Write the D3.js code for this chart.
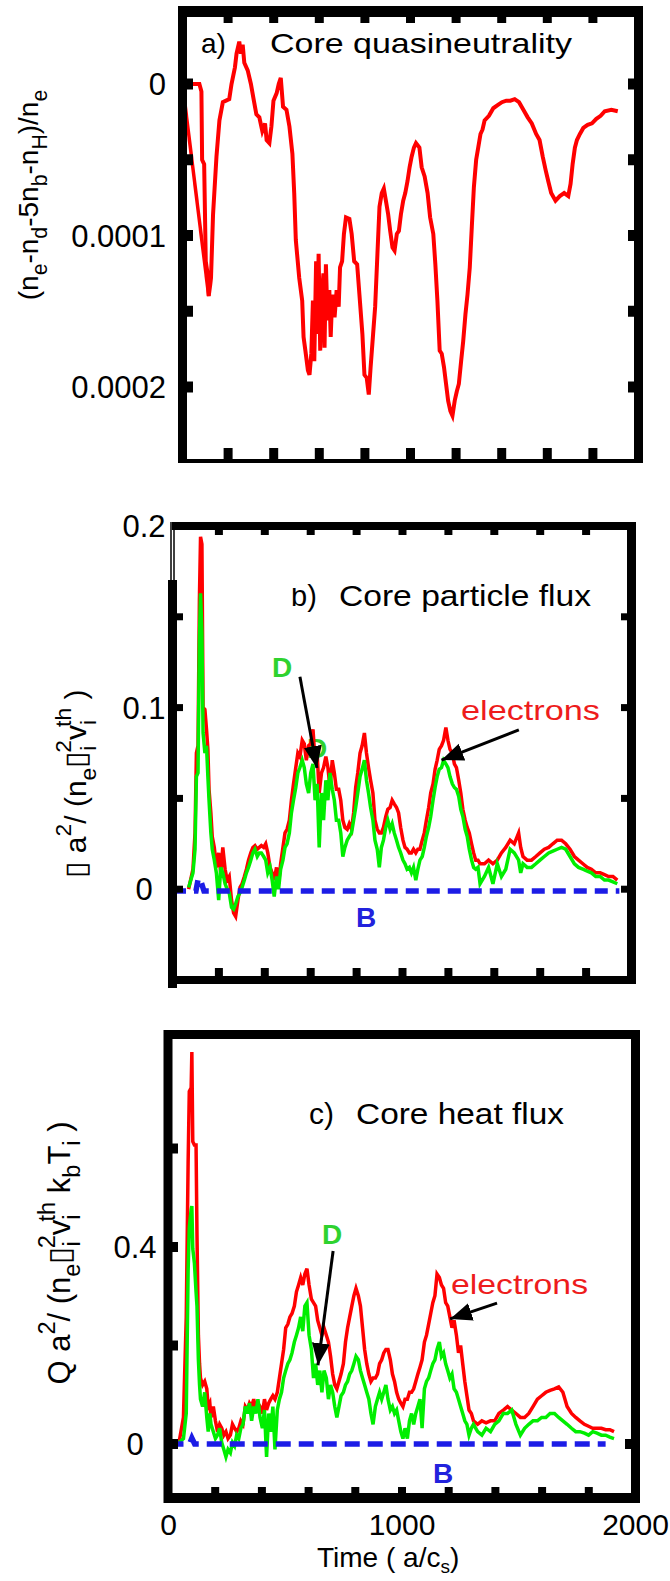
<!DOCTYPE html>
<html>
<head>
<meta charset="utf-8">
<script src="https://cdn.jsdelivr.net/npm/d3@7"></script>
<style>
body { margin: 0; background: #fff; }
svg { display: block; }
text { font-family: "Liberation Sans", Arial, Helvetica, sans-serif; }
</style>
</head>
<body>
<div id="chart"></div>
<script>
// ---- panel a : core quasineutrality (values in units of 1e-4) ----
var qnT = [0,74,83,86,95,102,110,115,122,125,134,
  149,162,177,205,215,230,237,249,256,264,
  271,286,300,313,324,337,350,362,369,381,
  390,399,413,422,431,441,456,469,482,490,
  497,512,525,531,539,550,557,565,572,578,
  586,591,597,604,610,618,623,629,636,644,
  650,657,667,676,685,691,700,708,717,732,
  742,753,766,776,789,798,808,817,825,836,
  845,855,864,874,883,892,902,911,921,930,
  940,949,958,968,977,987,996,1005,1015,1024,
  1039,1049,1062,1075,1086,1100,1109,1118,1128,1137,
  1147,1156,1165,1175,1184,1194,1203,1212,1222,1231,
  1241,1250,1260,1269,1278,1288,1297,1307,1316,1325,
  1344,1363,1382,1401,1420,1438,1457,1476,1495,1514,
  1532,1551,1566,1580,1593,1604,1617,1636,1655,1674,
  1692,1702,1711,1721,1730,1743,1758,1777,1796,1815,
  1834,1852,1881,1909];
var qnV = [0,0,0.05,0.5,0.53,1.17,1.25,1.40,1.32,1.28,0.86,
  0.48,0.24,0.12,0.10,0,-0.11,-0.20,-0.28,-0.20,-0.26,
  -0.14,-0.09,0,0.11,0.20,0.22,0.31,0.26,0.37,0.39,
  0.28,0.11,0.06,0,-0.04,0.15,0.17,0.28,0.46,0.72,
  1.03,1.28,1.43,1.67,1.76,1.89,1.92,1.78,1.43,1.83,
  1.17,1.65,1.12,1.76,1.43,1.25,1.74,1.19,1.56,1.36,
  1.67,1.39,1.54,1.36,1.47,1.21,1.17,0.99,0.88,0.89,
  0.99,1.17,1.19,1.39,1.65,1.92,1.94,2.05,1.87,1.65,
  1.47,1.12,0.81,0.72,0.69,0.77,0.86,0.97,1.08,1.10,
  0.99,0.97,0.86,0.77,0.72,0.64,0.55,0.48,0.42,0.39,
  0.42,0.55,0.61,0.72,0.88,0.99,1.19,1.43,1.76,1.78,
  1.87,1.98,2.09,2.16,2.19,2.09,2.03,1.98,1.83,1.70,
  1.52,1.39,1.21,0.94,0.68,0.50,0.42,0.33,0.30,0.24,
  0.21,0.16,0.14,0.12,0.11,0.11,0.10,0.12,0.17,0.22,
  0.26,0.33,0.37,0.48,0.57,0.64,0.72,0.77,0.74,0.72,
  0.74,0.66,0.53,0.42,0.37,0.33,0.29,0.27,0.26,0.23,
  0.21,0.18,0.17,0.18];
// first sample joined straight to the early minimum
var qnLeadT = [0, 115];
var qnLeadV = [0, 1.40];
var qnTicks = [0, 0.5, 1, 1.5, 2];
var qnLabels = [0, 1, 2];

// ---- panel b : core particle flux ----
var pfT = [68,87,96,102,109,115,120,126,131,139,
  146,152,157,165,171,180,189,199,208,217,
  227,236,245,255,264,273,283,292,301,311,
  320,329,339,348,357,367,376,385,395,404,
  413,423,432,441,451,460,469,479,488,497,
  507,516,525,535,544,553,563,572,581,591,
  600,610,619,628,637,647,656,666,675,684,
  694,703,712,722,731,740,749,759,768,778,
  787,796,805,815,824,834,843,852,861,871,
  880,890,899,908,917,927,936,946,955,964,
  974,983,992,1002,1011,1020,1030,1039,1048,1058,
  1067,1076,1086,1095,1104,1114,1123,1133,1142,1151,
  1160,1170,1179,1189,1198,1207,1217,1226,1235,1245,
  1254,1263,1273,1282,1291,1301,1310,1319,1329,1338,
  1357,1375,1394,1413,1431,1450,1469,1487,1506,1515,
  1525,1543,1562,1581,1599,1618,1637,1655,1674,1693,
  1711,1730,1749,1767,1786,1805,1823,1842,1861,1880,
  1898,1917,1936];
var pfElectrons = [0.000,0.011,0.031,0.075,0.079,0.159,0.194,0.190,0.100,0.099,
  0.088,0.077,0.055,0.042,0.029,0.023,0.012,0.020,0.009,0.023,
  0.011,0.005,0.007,-0.006,-0.013,-0.015,-0.006,0.001,0.003,0.007,
  0.011,0.016,0.020,0.023,0.024,0.022,0.023,0.024,0.023,0.025,
  0.020,0.012,0.009,0.005,0.012,0.003,0.014,0.023,0.031,0.033,
  0.038,0.049,0.058,0.067,0.075,0.073,0.082,0.080,0.071,0.079,
  0.080,0.088,0.071,0.075,0.053,0.064,0.067,0.073,0.067,0.056,
  0.071,0.064,0.055,0.055,0.049,0.038,0.034,0.033,0.036,0.033,
  0.042,0.056,0.064,0.075,0.079,0.086,0.075,0.067,0.060,0.053,
  0.038,0.033,0.031,0.031,0.034,0.040,0.044,0.045,0.049,0.047,
  0.045,0.042,0.034,0.027,0.023,0.022,0.020,0.020,0.022,0.020,
  0.022,0.022,0.027,0.031,0.038,0.045,0.053,0.058,0.066,0.071,
  0.077,0.079,0.082,0.089,0.082,0.077,0.075,0.069,0.067,0.060,
  0.053,0.044,0.038,0.034,0.031,0.025,0.020,0.016,0.016,0.014,
  0.014,0.016,0.014,0.016,0.020,0.023,0.027,0.025,0.031,0.023,
  0.018,0.016,0.016,0.018,0.020,0.022,0.023,0.025,0.027,0.027,
  0.025,0.022,0.018,0.016,0.014,0.012,0.011,0.009,0.009,0.008,
  0.007,0.007,0.005];
var pfD = [0.001,0.009,0.022,0.062,0.064,0.137,0.163,0.141,0.086,0.075,
  0.079,0.062,0.049,0.031,0.022,0.016,0.009,-0.006,0.012,0.009,
  0.003,0.000,-0.002,-0.010,-0.011,-0.008,-0.004,-0.002,0.001,0.005,
  0.009,0.012,0.016,0.020,0.022,0.018,0.020,0.020,0.018,0.016,
  0.009,0.012,0.005,-0.004,0.007,0.000,0.011,0.016,0.023,0.025,
  0.031,0.042,0.049,0.056,0.064,0.067,0.071,0.067,0.058,0.053,
  0.064,0.069,0.049,0.058,0.023,0.053,0.038,0.060,0.049,0.064,
  0.055,0.049,0.038,0.038,0.031,0.018,0.023,0.027,0.029,0.031,
  0.038,0.045,0.053,0.062,0.066,0.071,0.060,0.053,0.045,0.038,
  0.027,0.022,0.012,0.023,0.027,0.034,0.038,0.033,0.036,0.031,
  0.027,0.023,0.020,0.016,0.014,0.011,0.012,0.009,0.012,0.005,
  0.011,0.016,0.018,0.023,0.029,0.034,0.040,0.049,0.056,0.062,
  0.066,0.067,0.071,0.069,0.067,0.062,0.058,0.056,0.055,0.051,
  0.044,0.040,0.033,0.029,0.022,0.016,0.012,0.011,0.012,0.003,
  0.007,0.012,0.003,0.014,0.007,0.011,0.022,0.020,0.016,0.009,
  0.014,0.012,0.012,0.014,0.016,0.018,0.020,0.021,0.022,0.023,
  0.022,0.018,0.014,0.012,0.011,0.010,0.009,0.007,0.007,0.005,
  0.005,0.004,0.003];
var pfBT = [0,100,110,120,135,1945];
var pfB = [-0.001,-0.001,0.006,0.005,-0.001,-0.001];
var pfTicks = [0, 0.05, 0.1, 0.15];
var pfLabels = [0, 0.1, 0.2];

// ---- panel c : core heat flux ----
var hfT = [45,64,76,84,89,97,100,104,111,118,
  122,128,133,137,146,155,164,170,177,182,
  192,201,210,219,228,237,246,255,265,274,
  283,292,301,310,319,329,338,347,356,365,
  374,383,392,402,411,420,429,438,447,456,
  466,475,484,493,502,511,520,529,539,548,
  557,566,575,584,593,602,612,621,630,639,
  648,657,666,676,685,694,703,712,721,730,
  739,749,758,767,776,785,794,803,813,822,
  831,840,849,858,867,876,886,895,904,913,
  922,931,940,950,959,968,977,986,995,1004,
  1013,1023,1032,1041,1050,1059,1068,1077,1086,1096,
  1105,1114,1123,1132,1141,1150,1160,1169,1178,1187,
  1196,1205,1214,1223,1233,1242,1251,1260,1269,1278,
  1287,1297,1306,1324,1342,1360,1379,1397,1415,1434,
  1452,1470,1488,1507,1525,1543,1561,1580,1598,1616,
  1634,1653,1671,1689,1707,1726,1744,1762,1781,1799,
  1817,1835,1854,1872,1890,1908];
var hfElectrons = [0.003,0.054,0.258,0.570,0.716,0.723,0.796,0.614,0.607,0.607,
  0.425,0.221,0.163,0.134,0.120,0.127,0.112,0.076,0.083,0.054,
  0.076,0.047,0.025,0.040,0.032,0.018,0.025,0.011,0.018,0.040,
  0.032,0.025,0.032,0.047,0.040,0.076,0.069,0.083,0.076,0.091,
  0.069,0.083,0.076,0.062,0.091,0.069,0.083,0.091,0.098,0.091,
  0.105,0.134,0.163,0.192,0.236,0.243,0.258,0.265,0.280,0.309,
  0.323,0.338,0.323,0.345,0.356,0.323,0.294,0.287,0.280,0.251,
  0.236,0.221,0.236,0.221,0.207,0.178,0.142,0.120,0.112,0.127,
  0.142,0.163,0.207,0.236,0.258,0.280,0.301,0.316,0.301,0.280,
  0.236,0.192,0.163,0.142,0.127,0.134,0.134,0.142,0.163,0.171,
  0.185,0.192,0.192,0.171,0.142,0.127,0.105,0.091,0.083,0.076,
  0.091,0.091,0.105,0.105,0.112,0.127,0.142,0.156,0.171,0.207,
  0.221,0.243,0.265,0.287,0.301,0.345,0.338,0.323,0.316,0.287,
  0.280,0.258,0.236,0.251,0.221,0.185,0.200,0.163,0.127,0.098,
  0.069,0.062,0.047,0.040,0.047,0.043,0.047,0.047,0.062,0.069,
  0.076,0.069,0.062,0.054,0.054,0.062,0.076,0.091,0.098,0.105,
  0.109,0.112,0.116,0.105,0.076,0.062,0.054,0.047,0.040,0.036,
  0.032,0.032,0.032,0.029,0.029,0.025];
var hfD = [0.003,0.011,0.062,0.352,0.439,0.476,0.483,0.396,0.367,0.309,
  0.280,0.171,0.120,0.091,0.076,0.105,0.054,0.025,0.062,0.040,
  0.025,0.011,0.018,0.032,0.003,-0.011,-0.026,-0.011,-0.018,0.003,
  -0.004,0.018,0.011,0.032,0.040,0.076,0.062,0.083,0.047,0.076,
  0.062,0.091,0.054,0.032,0.069,-0.026,0.062,0.025,0.076,-0.011,
  0.069,0.091,0.105,0.134,0.149,0.163,0.171,0.185,0.207,0.221,
  0.236,0.258,0.229,0.280,0.287,0.221,0.192,0.134,0.163,0.120,
  0.149,0.105,0.149,0.134,0.091,0.120,0.105,0.076,0.054,0.076,
  0.098,0.105,0.120,0.127,0.142,0.149,0.163,0.178,0.171,0.149,
  0.134,0.120,0.105,0.091,0.062,0.040,0.076,0.091,0.105,0.091,
  0.105,0.120,0.091,0.069,0.076,0.062,0.069,0.047,0.025,0.011,
  0.032,0.011,0.047,0.062,0.040,0.062,0.076,0.091,0.032,0.112,
  0.127,0.134,0.149,0.163,0.171,0.192,0.207,0.178,0.185,0.163,
  0.149,0.134,0.142,0.112,0.105,0.091,0.076,0.062,0.047,0.040,
  0.018,0.032,0.040,0.025,0.018,0.032,0.025,0.040,0.047,0.062,
  0.062,0.069,0.040,0.018,0.032,0.040,0.047,0.047,0.054,0.054,
  0.062,0.062,0.054,0.047,0.040,0.032,0.025,0.025,0.022,0.018,
  0.025,0.022,0.018,0.018,0.014,0.011];
var hfBT = [0,90,100,112,1872];
var hfB = [0,0,0.012,0,0];
var hfTicks = [0, 0.2, 0.4, 0.6];
var hfLabels = [0, 0.4];

var timeTicks = [200,400,600,800,1000,1200,1400,1600,1800];
var timeLabels = [0, 1000, 2000];

var RED = "#ff0000", GREEN = "#00ee00", BLUE = "#1c1ce6";

var svg = d3.select("#chart")
            .append("svg")
            .attr("width", 670)
            .attr("height", 1581);

svg.append("defs").append("marker")
   .attr("id", "head")
   .attr("viewBox", "0 -10 22 20")
   .attr("refX", 22).attr("refY", 0)
   .attr("markerWidth", 22).attr("markerHeight", 20)
   .attr("markerUnits", "userSpaceOnUse")
   .attr("orient", "auto")
   .append("path").attr("d", "M0,-9L22,0L0,9Z").attr("fill", "#000");

function bar(x1, y1, x2, y2, w) {
    svg.append("line")
       .attr("x1", x1).attr("y1", y1).attr("x2", x2).attr("y2", y2)
       .attr("stroke", "#000").attr("stroke-width", w);
}

function series(x, y, t, v, color, width, dash) {
    var line = d3.line().x(function(d) { return x(d[0]); }).y(function(d) { return y(d[1]); });
    var p = svg.append("path")
       .datum(d3.zip(t, v))
       .attr("d", line)
       .attr("fill", "none")
       .attr("stroke", color)
       .attr("stroke-width", width)
       .attr("stroke-linejoin", "miter");
    if (dash) p.attr("stroke-dasharray", dash);
}

function label(x, y, str, size, opts) {
    opts = opts || {};
    var t = svg.append("text")
       .attr("x", x).attr("y", y)
       .attr("font-size", size)
       .attr("fill", opts.fill || "#000")
       .attr("text-anchor", opts.anchor || "start")
       .text(str);
    if (opts.bold) t.attr("font-weight", "bold");
    if (opts.len) t.attr("textLength", opts.len).attr("lengthAdjust", "spacingAndGlyphs");
    return t;
}

// rotated axis title built from normal / sub / sup pieces
function richTitle(x, y, size, parts) {
    var t = svg.append("text")
       .attr("transform", "translate(" + x + "," + y + ") rotate(-90)")
       .attr("text-anchor", "middle")
       .attr("font-size", size);
    var cur = 0;
    parts.forEach(function(p) {
        var kind = p[1] || "n";
        var target = kind === "sub" ? size * 0.32 : kind === "sup" ? -size * 0.5 : 0;
        var ts = t.append("tspan").attr("dy", target - cur).text(p[0]);
        if (kind !== "n") ts.attr("font-size", size * 0.76);
        if (p[2]) ts.attr("dx", -p[2]);
        cur = target;
    });
}

function arrow(x1, y1, x2, y2) {
    svg.append("line")
       .attr("x1", x1).attr("y1", y1).attr("x2", x2).attr("y2", y2)
       .attr("stroke", "#000").attr("stroke-width", 3)
       .attr("marker-end", "url(#head)");
}

// ================= panel a =================
var xa = d3.scaleLinear().domain([0, 2000]).range([182.5, 638.5]);
var ya = d3.scaleLinear().domain([0, 2]).range([84, 387]);

series(xa, ya, qnLeadT, qnLeadV, RED, 3.5);
series(xa, ya, qnT, qnV, RED, 4);

bar(182.5, 6, 182.5, 463, 9);
bar(638.5, 6, 638.5, 463, 9);
bar(178, 11.5, 643, 11.5, 11);
bar(178, 461, 643, 461, 4);
timeTicks.forEach(function(t) {
    bar(xa(t), 459, xa(t), 448, 9);
    bar(xa(t), 17, xa(t), 23, 9);
});
qnTicks.forEach(function(v) {
    bar(187, ya(v), 193, ya(v), 11);
    bar(634, ya(v), 628, ya(v), 11);
});
qnLabels.forEach(function(v) {
    label(166, ya(v) + 11, v === 0 ? "0" : d3.format(".4f")(v * 1e-4), 31, {anchor: "end"});
});
label(201, 53, "a)", 28);
label(270, 53, "Core quasineutrality", 28, {len: 302});
richTitle(38, 195, 28, [["(n"], ["e", "sub"], ["-n"], ["d", "sub"], ["-5n"], ["b", "sub"],
                        ["-n"], ["H", "sub"], [")/n"], ["e", "sub"]]);

// ================= panel b =================
var xb = d3.scaleLinear().domain([0, 2000]).range([173, 632]);
var yb = d3.scaleLinear().domain([-0.05, 0.2]).range([980, 526]);

label(291, 606, "b)", 29);
svg.append("rect").attr("x", 286).attr("y", 576).attr("width", 10).attr("height", 12).attr("fill", "#fff");
label(339, 606, "Core particle flux", 29, {len: 252});
label(xb(584), yb(0.072), "D", 28, {fill: "#2fd22f", bold: true});

series(xb, yb, pfT, pfElectrons, RED, 3.5);
series(xb, yb, pfT, pfD, GREEN, 3.5);
series(xb, yb, pfBT, pfB, BLUE, 5.5, "13,8");

bar(172, 526, 636, 526, 8);
bar(631.5, 522, 631.5, 984, 9);
bar(168, 980, 636, 980, 8);
bar(172.5, 580, 172.5, 988, 9);
bar(171, 522, 171, 580, 1.5);
bar(174, 522, 174, 580, 1.5);
timeTicks.forEach(function(t) {
    bar(xb(t), 530, xb(t), 535, 8);
    bar(xb(t), 976, xb(t), 968, 8);
});
pfTicks.forEach(function(v) {
    bar(177, yb(v), 183, yb(v), 7);
    bar(627, yb(v), 621, yb(v), 7);
});
pfLabels.forEach(function(v) {
    label(144, yb(v) + 11, String(v), 31, {anchor: "middle"});
});
richTitle(86, 784, 30, [["\u25AF a"], ["2", "sup"], ["/ (n"], ["e", "sub"], ["\u25AF"], ["i", "sub"],
                        ["2", "sup", 7], ["v"], ["i", "sub"], ["th", "sup", 7], [" )"]]);

label(xb(431), yb(0.117), "D", 28, {fill: "#2fd22f", bold: true});
arrow(xb(553), yb(0.117), xb(627), yb(0.0667));
label(xb(1255), yb(0.0932), "electrons", 28, {fill: "#ee1c1c", len: 139});
arrow(xb(1507), yb(0.0877), xb(1170), yb(0.0711));
label(xb(797), yb(-0.0208), "B", 28, {fill: "#2222dd", bold: true});

// ================= panel c =================
var xc = d3.scaleLinear().domain([0, 2000]).range([168.5, 635.5]);
var yc = d3.scaleLinear().domain([0, 0.4]).range([1444, 1247]);

label(309, 1124, "c)", 30);
label(356, 1124, "Core heat flux", 30, {len: 208});

series(xc, yc, hfT, hfElectrons, RED, 3.5);
series(xc, yc, hfT, hfD, GREEN, 3.5);
series(xc, yc, hfBT, hfB, BLUE, 5.5, "15,8");

bar(168, 1030, 168, 1503, 9);
bar(635.5, 1030, 635.5, 1503, 9);
bar(164, 1034.5, 640, 1034.5, 9);
bar(164, 1498, 640, 1498, 10);
timeTicks.forEach(function(t) {
    bar(xc(t), 1493, xc(t), 1487, 8);
});
hfTicks.forEach(function(v) {
    bar(164, yc(v), 178, yc(v), 10);
});
bar(631, yc(0), 625, yc(0), 10);
hfLabels.forEach(function(v) {
    label(135, yc(v) + 11, String(v), 31, {anchor: "middle"});
});
timeLabels.forEach(function(t) {
    label(xc(t), 1535, String(t), 30, {anchor: "middle"});
});
var tl = label(317, 1567, "Time ( a/c", 28);
tl.append("tspan").attr("font-size", 19).attr("dy", 6).text("s");
tl.append("tspan").attr("dy", -6).text(")");
richTitle(70, 1253, 31, [["Q a"], ["2", "sup"], ["/ (n"], ["e", "sub"], ["\u25AF"], ["i", "sub"],
                         ["2", "sup", 7], ["v"], ["i", "sub"], ["th", "sup", 7], [" k"], ["b", "sub"],
                         ["T"], ["i", "sub"], [" )"]]);

label(xc(657), yc(0.406), "D", 28, {fill: "#2fd22f", bold: true});
arrow(xc(705), yc(0.392), xc(640), yc(0.160));
label(xc(1210), yc(0.305), "electrons", 28, {fill: "#ee1c1c", len: 137});
arrow(xc(1407), yc(0.286), xc(1206), yc(0.254));
label(xc(1133), yc(-0.079), "B", 28, {fill: "#2222dd", bold: true});
</script>
</body>
</html>
